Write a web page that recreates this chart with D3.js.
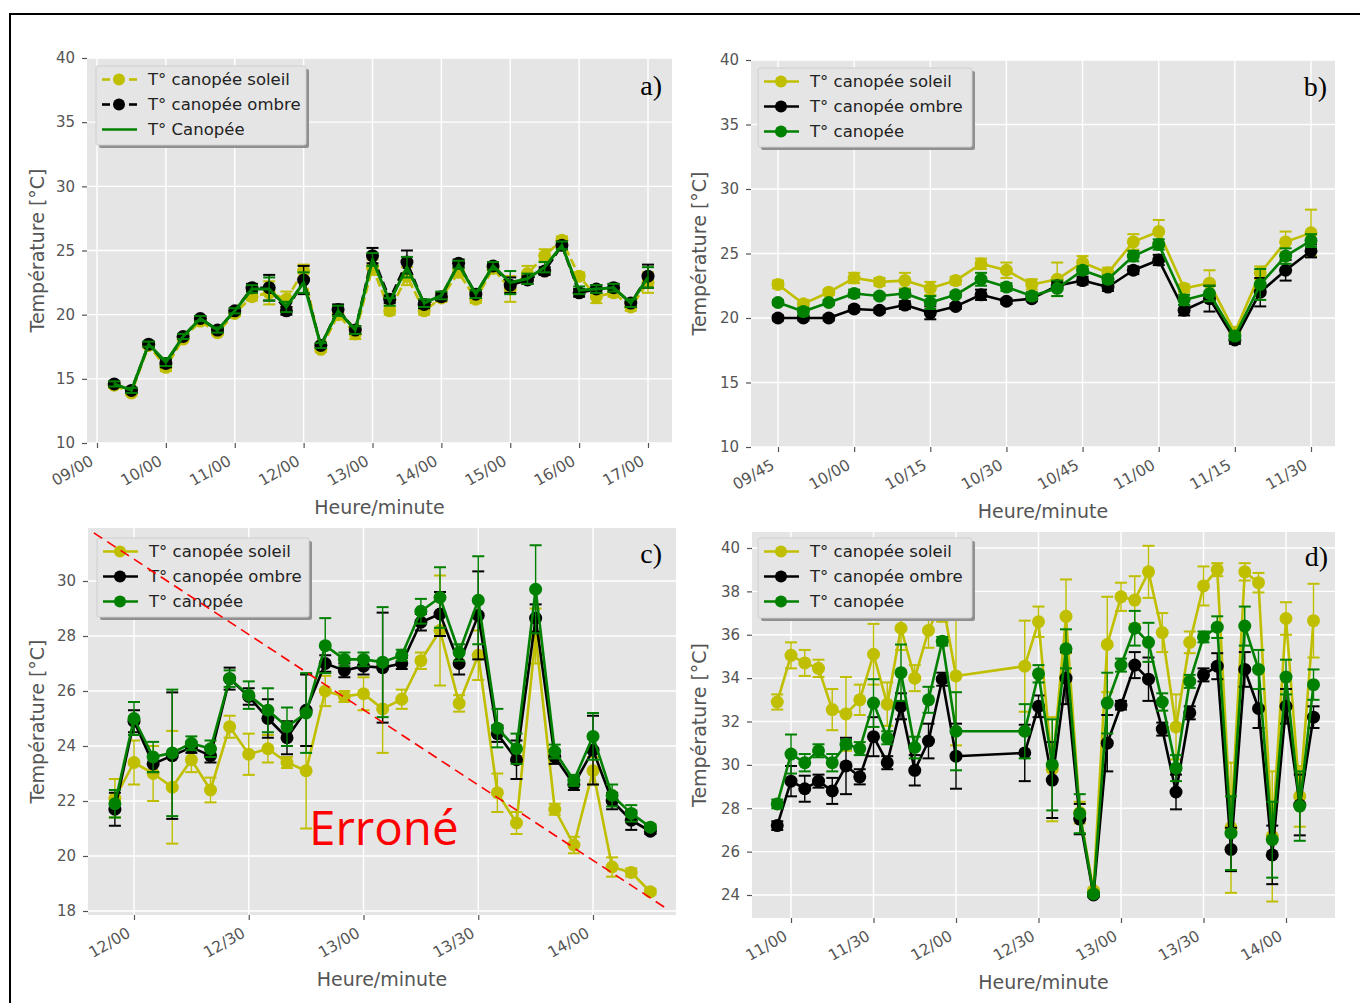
<!DOCTYPE html>
<html>
<head>
<meta charset="utf-8">
<script src="https://cdn.jsdelivr.net/npm/d3@7"></script>
<style>
  body { margin: 0; background: #fff; }
  svg { display: block; }
</style>
</head>
<body>
<script>
// ---------- Panel a : full day, 15-minute steps ----------
const timesA = ["09:15","09:30","09:45","10:00","10:15","10:30","10:45","11:00","11:15","11:30","11:45","12:00","12:15","12:30","12:45","13:00","13:15","13:30","13:45","14:00","14:15","14:30","14:45","15:00","15:15","15:30","15:45","16:00","16:15","16:30","16:45","17:00"];
const soleilA = [14.5,13.9,17.6,15.9,18.1,19.5,18.6,20.1,21.4,21.7,21.2,23.4,17.3,20.0,18.5,23.7,20.3,23.0,20.3,21.3,23.3,21.2,23.6,22.0,23.2,24.6,25.8,23.0,21.4,21.7,20.6,22.5];
const soleilErrA = [0.2,0.2,0.2,0.3,0.2,0.2,0.2,0.2,0.3,0.9,0.6,0.5,0.2,0.3,0.4,0.6,0.3,0.7,0.3,0.3,0.3,0.3,0.3,1.0,0.6,0.5,0.3,0.3,0.5,0.3,0.3,0.8];
const ombreA = [14.6,14.1,17.7,16.2,18.3,19.7,18.8,20.3,22.1,22.1,20.3,22.7,17.6,20.4,18.8,24.6,21.2,24.1,20.8,21.4,24.0,21.6,23.8,22.3,22.7,23.4,25.4,21.7,22.0,22.1,20.9,23.0];
const ombreErrA = [0.2,0.2,0.2,0.3,0.2,0.2,0.2,0.2,0.3,1.0,0.3,1.1,0.2,0.4,0.3,0.6,0.3,0.9,0.3,0.3,0.3,0.3,0.3,0.6,0.3,0.3,0.3,0.3,0.3,0.3,0.3,0.9];
const canopeeA = [14.6,14.1,17.7,16.3,18.3,19.7,18.8,20.3,22.0,22.0,20.6,22.5,17.6,20.3,18.8,24.3,21.0,23.7,20.9,21.5,23.9,21.6,23.8,22.5,22.8,23.7,25.4,21.9,22.0,22.1,20.9,22.9];
const canopeeErrA = [0.2,0.2,0.2,0.3,0.2,0.2,0.2,0.2,0.3,0.9,0.4,0.8,0.2,0.4,0.3,0.5,0.3,0.8,0.3,0.3,0.3,0.3,0.3,0.9,0.4,0.4,0.3,0.3,0.3,0.3,0.3,0.8];
const xTicksA = ["09:00","10:00","11:00","12:00","13:00","14:00","15:00","16:00","17:00"];
const yTicksA = [10,15,20,25,30,35,40];

// ---------- Panel b : morning, 5-minute steps ----------
const timesB = ["09:45","09:50","09:55","10:00","10:05","10:10","10:15","10:20","10:25","10:30","10:35","10:40","10:45","10:50","10:55","11:00","11:05","11:10","11:15","11:20","11:25","11:30"];
const soleilB = [22.6,21.1,22.0,23.1,22.8,22.9,22.3,22.9,24.2,23.7,22.6,23.0,24.3,23.5,25.9,26.7,22.3,22.7,18.9,23.5,25.9,26.6];
const soleilErrB = [0.3,0.3,0.2,0.4,0.3,0.6,0.5,0.3,0.4,0.6,0.4,1.3,0.5,0.4,0.6,0.9,0.3,1.0,0.3,0.5,0.8,1.8];
const ombreB = [20.0,20.0,20.0,20.7,20.6,21.0,20.4,20.9,21.8,21.3,21.5,22.5,22.9,22.4,23.7,24.5,20.6,21.5,18.3,22.0,23.7,25.2];
const ombreErrB = [0.2,0.2,0.2,0.2,0.2,0.3,0.5,0.2,0.4,0.2,0.2,0.3,0.3,0.3,0.3,0.4,0.4,1.0,0.3,1.1,0.8,0.5];
const canopeeB = [21.2,20.5,21.2,21.9,21.7,21.9,21.2,21.8,23.0,22.4,21.7,22.3,23.7,23.0,24.8,25.7,21.4,21.9,18.6,22.6,24.8,26.0];
const canopeeErrB = [0.2,0.3,0.2,0.3,0.2,0.3,0.5,0.2,0.5,0.3,0.3,0.6,0.3,0.3,0.4,0.4,0.4,0.6,0.3,1.2,0.6,0.5];
const xTicksB = ["09:45","10:00","10:15","10:30","10:45","11:00","11:15","11:30"];
const yTicksB = [10,15,20,25,30,35,40];

// ---------- Panel c : midday, 5-minute steps ----------
const timesC = ["11:55","12:00","12:05","12:10","12:15","12:20","12:25","12:30","12:35","12:40","12:45","12:50","12:55","13:00","13:05","13:10","13:15","13:20","13:25","13:30","13:35","13:40","13:45","13:50","13:55","14:00","14:05","14:10","14:15"];
const soleilC = [22.1,23.4,23.0,22.5,23.5,22.4,24.7,23.7,23.9,23.4,23.1,26.0,25.8,25.9,25.35,25.7,27.1,28.2,25.55,27.3,22.3,21.2,28.0,21.7,20.4,23.1,19.6,19.4,18.7];
const soleilErrC = [0.7,0.8,1.0,2.05,0.45,0.45,0.4,0.75,0.5,0.2,2.1,0.55,0.2,0.6,1.6,0.35,0.3,2.0,0.3,0.9,0.7,0.4,1.0,0.2,0.3,0.5,0.35,0.15,0.1];
const ombreC = [21.7,24.9,23.35,23.65,23.95,23.65,26.45,25.8,25.0,24.3,25.3,27.0,26.75,26.9,26.85,27.0,28.5,28.8,27.0,28.75,24.45,23.5,28.65,23.6,22.6,23.85,22.0,21.3,20.9];
const ombreErrC = [0.6,0.4,0.3,2.3,0.2,0.25,0.4,0.3,0.7,0.6,1.3,0.3,0.25,0.3,2.0,0.2,0.3,0.8,0.4,1.6,0.3,0.7,0.5,0.25,0.2,1.25,0.3,0.35,0.1];
const canopeeC = [21.9,25.0,23.6,23.75,24.1,23.9,26.45,25.85,25.3,24.7,25.2,27.65,27.15,27.15,27.05,27.3,28.9,29.4,27.4,29.3,24.65,23.9,29.7,23.8,22.75,24.35,22.2,21.55,21.05];
const canopeeErrC = [0.5,0.6,0.55,2.3,0.25,0.3,0.3,0.5,0.8,0.7,1.45,1.0,0.25,0.25,2.0,0.2,0.45,1.1,0.3,1.6,0.7,0.55,1.6,0.25,0.2,0.85,0.4,0.3,0.1];
const xTicksC = ["12:00","12:30","13:00","13:30","14:00"];
const yTicksC = [18,20,22,24,26,28,30];
// Trend flagged as erroneous (dashed red)
const errLineTimes = ["11:49:30","14:19:06"];
const errLineValues = [31.75,18.1];

// ---------- Panel d : late morning to afternoon ----------
const timesD = ["10:55","11:00","11:05","11:10","11:15","11:20","11:25","11:30","11:35","11:40","11:45","11:50","11:55","12:00","12:25","12:30","12:35","12:40","12:45","12:50","12:55","13:00","13:05","13:10","13:15","13:20","13:25","13:30","13:35","13:40","13:45","13:50","13:55","14:00","14:05","14:10"];
const soleilD = [32.9,35.05,34.7,34.45,32.55,32.35,33.0,35.1,32.8,36.3,34.0,36.2,37.6,34.1,34.55,36.6,29.8,36.85,27.8,24.2,35.55,37.75,37.6,38.9,36.1,31.75,35.65,38.25,39.0,27.1,38.9,38.4,26.7,36.75,28.55,36.65];
const soleilErrD = [0.35,0.6,0.6,0.4,0.95,1.7,0.7,1.4,1.0,1.0,0.6,0.8,1.0,3.2,2.1,0.7,2.4,1.7,0.5,0.1,2.2,0.65,1.1,1.2,0.9,1.5,0.5,0.9,0.3,3.0,0.4,0.45,3.0,0.75,1.4,1.7];
const ombreD = [27.2,29.25,28.9,29.25,28.8,29.95,29.45,31.3,30.1,32.7,29.75,31.1,33.95,30.4,30.55,32.7,29.3,34.0,27.5,24.0,31.0,32.75,34.6,33.95,31.65,28.75,32.4,34.15,34.55,26.1,34.4,32.6,25.85,32.7,28.15,32.2];
const ombreErrD = [0.2,0.7,0.6,0.3,0.6,1.3,0.35,0.9,0.3,0.6,0.7,0.8,0.3,1.5,1.3,0.5,1.75,1.2,0.7,0.1,1.3,0.2,0.6,1.0,0.3,0.8,0.3,0.3,0.6,1.0,0.8,0.9,1.35,0.8,1.4,0.5];
const canopeeD = [28.2,30.5,30.1,30.65,30.1,30.95,30.75,32.85,31.25,34.25,30.8,33.0,35.7,31.55,31.55,34.2,30.0,35.35,27.75,24.05,32.85,34.6,36.3,35.65,32.9,29.85,33.85,35.9,36.35,26.85,36.4,34.4,26.55,34.05,28.1,33.7];
const canopeeErrD = [0.2,0.9,0.4,0.3,0.4,0.2,0.3,1.1,0.3,1.3,0.5,0.6,0.2,1.8,1.25,0.4,2.1,0.9,0.9,0.1,1.4,0.3,0.8,0.9,0.4,0.6,0.3,0.25,0.5,1.7,0.9,0.9,1.75,0.8,1.6,0.7];
const xTicksD = ["11:00","11:30","12:00","12:30","13:00","13:30","14:00"];
const yTicksD = [24,26,28,30,32,34,36,38,40];

const labelsSoleil = "T° canopée soleil";
const labelsOmbre = "T° canopée ombre";

// ---------- drawing ----------
const W = 1360, H = 1003;
const SOLEIL = "#bfbf00", OMBRE = "#000000", CANOPEE = "#008000";
const FONT = "'DejaVu Sans', sans-serif";
const parseT = d3.timeParse("%H:%M");
const parseTS = d3.timeParse("%H:%M:%S");
const fmtT = d3.timeFormat("%H/%M");

const svg = d3.select("body").append("svg").attr("width", W).attr("height", H);
svg.append("rect").attr("width", W).attr("height", H).attr("fill", "#fff");
svg.append("rect").attr("x", 10).attr("y", 14).attr("width", W + 20).attr("height", H + 20)
  .attr("fill", "none").attr("stroke", "#000").attr("stroke-width", 2);

const panels = [
  { key: "a", box: {l: 87, r: 672, t: 58, b: 443},
    xRef: ["09:00","17:00"], xPx: [97, 648], yRef: [10, 40], yPx: [443, 58],
    xTicks: xTicksA, yTicks: yTicksA, times: timesA,
    series: [
      {label: labelsSoleil, color: SOLEIL, v: soleilA, e: soleilErrA, marker: true, dash: true},
      {label: labelsOmbre, color: OMBRE, v: ombreA, e: ombreErrA, marker: true, dash: true},
      {label: "T° Canopée", color: CANOPEE, v: canopeeA, e: canopeeErrA, marker: false, dash: false}
    ],
    legend: {x: 96, y: 66, w: 210, h: 79}, letter: {t: "a)", x: 662, y: 95}, ylabX: 38 },
  { key: "b", box: {l: 751, r: 1335, t: 60, b: 447},
    xRef: ["09:45","11:30"], xPx: [778, 1311], yRef: [10, 40], yPx: [447, 60],
    xTicks: xTicksB, yTicks: yTicksB, times: timesB,
    series: [
      {label: labelsSoleil, color: SOLEIL, v: soleilB, e: soleilErrB, marker: true},
      {label: labelsOmbre, color: OMBRE, v: ombreB, e: ombreErrB, marker: true},
      {label: "T° canopée", color: CANOPEE, v: canopeeB, e: canopeeErrB, marker: true}
    ],
    legend: {x: 758, y: 68, w: 214, h: 79}, letter: {t: "b)", x: 1327, y: 96}, ylabX: 700 },
  { key: "c", box: {l: 88, r: 676, t: 528, b: 915},
    xRef: ["12:00","14:00"], xPx: [134, 593], yRef: [18, 30], yPx: [911, 581],
    xTicks: xTicksC, yTicks: yTicksC, times: timesC,
    series: [
      {label: labelsSoleil, color: SOLEIL, v: soleilC, e: soleilErrC, marker: true},
      {label: labelsOmbre, color: OMBRE, v: ombreC, e: ombreErrC, marker: true},
      {label: "T° canopée", color: CANOPEE, v: canopeeC, e: canopeeErrC, marker: true}
    ],
    legend: {x: 97, y: 538, w: 212, h: 79}, letter: {t: "c)", x: 662, y: 563}, ylabX: 38, flagged: true },
  { key: "d", box: {l: 752, r: 1335, t: 532, b: 918},
    xRef: ["11:00","14:00"], xPx: [791, 1286], yRef: [24, 40], yPx: [895, 548],
    xTicks: xTicksD, yTicks: yTicksD, times: timesD,
    series: [
      {label: labelsSoleil, color: SOLEIL, v: soleilD, e: soleilErrD, marker: true},
      {label: labelsOmbre, color: OMBRE, v: ombreD, e: ombreErrD, marker: true},
      {label: "T° canopée", color: CANOPEE, v: canopeeD, e: canopeeErrD, marker: true}
    ],
    legend: {x: 758, y: 538, w: 214, h: 80}, letter: {t: "d)", x: 1328, y: 566}, ylabX: 700 }
];

function drawPanel(p) {
  const {l, r, t, b} = p.box;
  const g = svg.append("g").attr("class", "panel-" + p.key);
  const x = d3.scaleTime().domain(p.xRef.map(parseT)).range(p.xPx);
  const y = d3.scaleLinear().domain(p.yRef).range(p.yPx);

  g.append("rect").attr("x", l).attr("y", t).attr("width", r - l).attr("height", b - t).attr("fill", "#e5e5e5");

  // white grid
  g.append("g").selectAll("line").data(p.xTicks.map(parseT)).join("line")
    .attr("x1", d => x(d)).attr("x2", d => x(d)).attr("y1", t).attr("y2", b)
    .attr("stroke", "#fff").attr("stroke-width", 1.4);
  g.append("g").selectAll("line").data(p.yTicks).join("line")
    .attr("x1", l).attr("x2", r).attr("y1", d => y(d)).attr("y2", d => y(d))
    .attr("stroke", "#fff").attr("stroke-width", 1.4);

  // axes
  const xa = g.append("g").attr("transform", `translate(0,${b})`)
    .call(d3.axisBottom(x).tickValues(p.xTicks.map(parseT)).tickFormat(fmtT).tickSize(5));
  xa.select(".domain").remove();
  xa.selectAll(".tick line").attr("stroke", "#555").attr("stroke-width", 1.2);
  xa.selectAll(".tick text")
    .attr("x", 0).attr("y", 0).attr("dy", null)
    .attr("transform", "translate(-3,21) rotate(-30)")
    .attr("text-anchor", "end").attr("fill", "#555")
    .style("font-family", FONT).style("font-size", "15.5px");

  const ya = g.append("g").attr("transform", `translate(${l},0)`)
    .call(d3.axisLeft(y).tickValues(p.yTicks).tickSize(5).tickPadding(7));
  ya.select(".domain").remove();
  ya.selectAll(".tick line").attr("stroke", "#555").attr("stroke-width", 1.2);
  ya.selectAll(".tick text").attr("fill", "#555")
    .style("font-family", FONT).style("font-size", "15px");

  // axis titles
  g.append("text").attr("x", (l + r) / 2).attr("y", b + 71).attr("text-anchor", "middle")
    .attr("fill", "#555").style("font-family", FONT).style("font-size", "19px").text("Heure/minute");
  g.append("text").attr("transform", `translate(${p.ylabX + 6},${(t + b) / 2}) rotate(-90)`)
    .attr("text-anchor", "middle").attr("fill", "#555")
    .style("font-family", FONT).style("font-size", "19px").text("Température [°C]");

  // data, clipped to the plotting area
  const clipId = "clip-" + p.key;
  svg.append("clipPath").attr("id", clipId).append("rect")
    .attr("x", l).attr("y", t).attr("width", r - l).attr("height", b - t);
  const plot = g.append("g").attr("clip-path", `url(#${clipId})`);

  p.series.forEach(s => {
    const pts = p.times.map((tt, i) => ({x: x(parseT(tt)), v: s.v[i], e: s.e[i]}));
    const eb = plot.append("g").attr("stroke", s.color);
    eb.selectAll("line.bar").data(pts).join("line").attr("class", "bar")
      .attr("x1", d => d.x).attr("x2", d => d.x)
      .attr("y1", d => y(d.v - d.e)).attr("y2", d => y(d.v + d.e)).attr("stroke-width", 1.4);
    eb.selectAll("line.capHi").data(pts).join("line").attr("class", "capHi")
      .attr("x1", d => d.x - 6).attr("x2", d => d.x + 6)
      .attr("y1", d => y(d.v + d.e)).attr("y2", d => y(d.v + d.e)).attr("stroke-width", 2);
    eb.selectAll("line.capLo").data(pts).join("line").attr("class", "capLo")
      .attr("x1", d => d.x - 6).attr("x2", d => d.x + 6)
      .attr("y1", d => y(d.v - d.e)).attr("y2", d => y(d.v - d.e)).attr("stroke-width", 2);

    plot.append("path").datum(pts)
      .attr("d", d3.line().x(d => d.x).y(d => y(d.v)))
      .attr("fill", "none").attr("stroke", s.color)
      .attr("stroke-width", s.marker ? 2.6 : 3)
      .attr("stroke-linejoin", "round")
      .attr("stroke-dasharray", s.dash ? "9,4" : null);

    if (s.marker) {
      plot.append("g").selectAll("circle").data(pts).join("circle")
        .attr("cx", d => d.x).attr("cy", d => y(d.v)).attr("r", 6.5).attr("fill", s.color);
    }
  });

  // legend
  const L = p.legend;
  const lg = g.append("g");
  lg.append("rect").attr("x", L.x + 3).attr("y", L.y + 3).attr("width", L.w).attr("height", L.h)
    .attr("rx", 2).attr("fill", "#8f8f8f");
  lg.append("rect").attr("x", L.x).attr("y", L.y).attr("width", L.w).attr("height", L.h)
    .attr("rx", 2).attr("fill", "#e5e5e5").attr("stroke", "#cfcfcf").attr("stroke-width", 1);
  p.series.forEach((s, i) => {
    const cy = L.y + 13.5 + 25 * i;
    const x0 = L.x + 6, x1 = L.x + 41, xm = L.x + 23;
    if (s.dash) {
      lg.append("line").attr("x1", x0).attr("x2", x0 + 8).attr("y1", cy).attr("y2", cy)
        .attr("stroke", s.color).attr("stroke-width", 2.6);
      lg.append("line").attr("x1", x1 - 8).attr("x2", x1).attr("y1", cy).attr("y2", cy)
        .attr("stroke", s.color).attr("stroke-width", 2.6);
    } else {
      lg.append("line").attr("x1", x0).attr("x2", x1).attr("y1", cy).attr("y2", cy)
        .attr("stroke", s.color).attr("stroke-width", 2.6);
    }
    if (s.marker) lg.append("circle").attr("cx", xm).attr("cy", cy).attr("r", 6).attr("fill", s.color);
    lg.append("text").attr("x", L.x + 52).attr("y", cy).attr("dy", "0.36em")
      .attr("fill", "#222").style("font-family", FONT).style("font-size", "16.5px").text(s.label);
  });

  if (p.flagged) {
    const pts = errLineTimes.map((tt, i) => ({x: x(parseTS(tt)), y: y(errLineValues[i])}));
    g.append("path").datum(pts)
      .attr("d", d3.line().x(d => d.x).y(d => d.y))
      .attr("fill", "none").attr("stroke", "#ff0000").attr("stroke-width", 1.6)
      .attr("stroke-dasharray", "10,6");
    g.append("text").attr("x", 309).attr("y", 845).attr("fill", "#ff0000")
      .style("font-family", "'Open Sans', sans-serif").style("font-size", "47.5px").text("Erroné");
  }

  g.append("text").attr("x", p.letter.x).attr("y", p.letter.y).attr("text-anchor", "end")
    .attr("fill", "#000").style("font-family", "'Liberation Serif', serif").style("font-size", "28px")
    .text(p.letter.t);
}

panels.forEach(drawPanel);
</script>
</body>
</html>
